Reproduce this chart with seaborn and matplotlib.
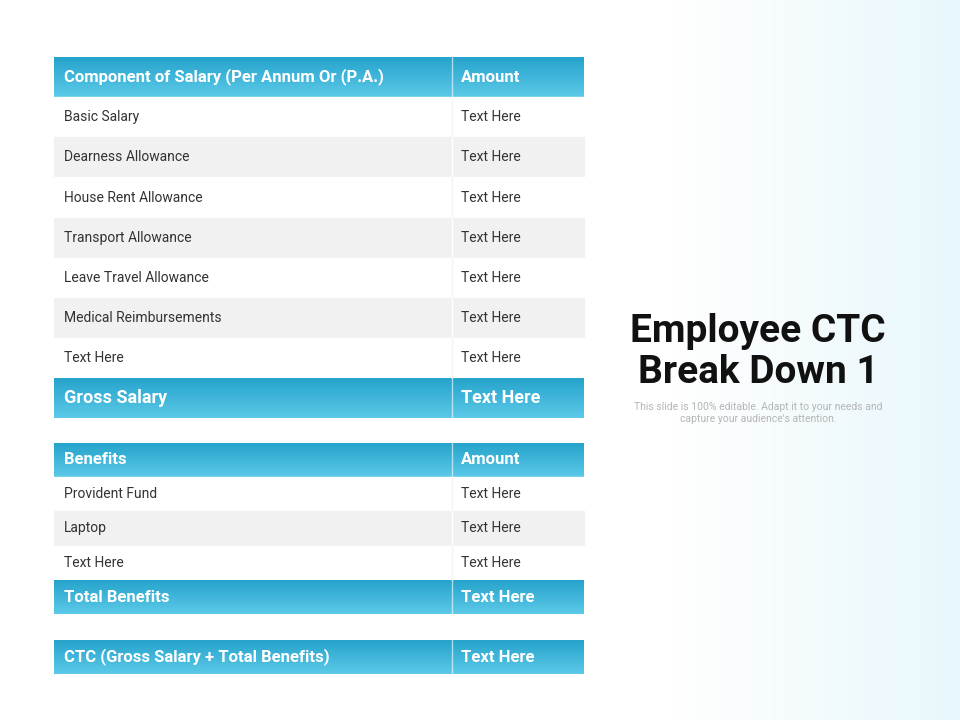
import matplotlib
matplotlib.use("Agg")
import matplotlib.pyplot as plt
import numpy as np
import seaborn as sns

sns.set_theme(style="white")

NARROW = ["Liberation Sans Narrow", "Roboto", "DejaVu Sans"]

salary_header = ["Component of Salary (Per Annum Or (P.A.)", "Amount"]
salary_items = ["Basic Salary", "Dearness Allowance", "House Rent Allowance",
                "Transport Allowance", "Leave Travel Allowance",
                "Medical Reimbursements", "Text Here"]
salary_amounts = ["Text Here"] * 7
gross_row = ["Gross Salary", "Text Here"]

benefit_header = ["Benefits", "Amount"]
benefit_items = ["Provident Fund", "Laptop", "Text Here"]
benefit_amounts = ["Text Here"] * 3
total_row = ["Total Benefits", "Text Here"]
ctc_row = ["CTC (Gross Salary + Total Benefits)", "Text Here"]

X0, XD, X1 = 54, 452, 584

fig = plt.figure(figsize=(9.6, 7.2), dpi=100)
ax = fig.add_axes([0, 0, 1, 1])
ax.set_xlim(0, 960)
ax.set_ylim(720, 0)
ax.axis("off")

# light cyan background fading in on the right
grad = np.linspace(0, 1, 256)
grad = np.clip((grad - 0.7) / 0.3, 0, 1)[None, :]
bg = np.ones((1, 256, 3))
cyan = np.array([0.91, 0.97, 0.99])
bg = bg * (1 - grad[..., None]) + cyan * grad[..., None]
ax.imshow(bg, extent=[0, 960, 720, 0], aspect="auto", zorder=0)

top_c = np.array([0.15, 0.64, 0.80])
bot_c = np.array([0.36, 0.79, 0.91])


def header(y0, y1, left, right, size=12):
    g = np.linspace(0, 1, 64)[:, None, None]
    img = top_c * (1 - g) + bot_c * g
    img = np.repeat(img, 2, axis=1)
    ax.imshow(img, extent=[X0, X1, y1, y0], aspect="auto", zorder=1)
    ax.plot([XD, XD], [y0, y1], color="white", lw=1, alpha=0.6, zorder=2)
    ym = (y0 + y1) / 2
    ax.text(X0 + 10, ym, left, color="white", fontsize=size, fontweight="bold",
            family=NARROW, va="center", zorder=3)
    ax.text(XD + 9, ym, right, color="white", fontsize=size, fontweight="bold",
            family=NARROW, va="center", zorder=3)


def body(y0, h, items, amounts, gray_first=False):
    for i, (a, b) in enumerate(zip(items, amounts)):
        yy = y0 + i * h
        gray = (i % 2 == 1) != gray_first
        c = "#f1f1f1" if gray else "white"
        ax.add_patch(plt.Rectangle((X0, yy), X1 - X0, h, color=c, zorder=1))
        ax.plot([XD, XD], [yy, yy + h], color="#f4f4f4" if not gray else "white",
                lw=1, zorder=2)
        ax.text(X0 + 10, yy + h / 2, a, fontsize=10, color="#333333",
                family=NARROW, va="center", zorder=3)
        ax.text(XD + 9, yy + h / 2, b, fontsize=10, color="#333333",
                family=NARROW, va="center", zorder=3)


header(57, 97, *salary_header)
body(97, 40.2, salary_items, salary_amounts)
header(378, 418, *gross_row, size=13)

header(443, 477, *benefit_header)
body(477, 34.3, benefit_items, benefit_amounts)
header(580, 614, *total_row)

header(640, 674, *ctc_row)

ax.text(758, 352, "Employee CTC\nBreak Down 1", fontsize=28, fontweight="bold",
        family=NARROW, color="#111111", ha="center", va="center",
        linespacing=1.15, zorder=3)
ax.text(758, 413, "This slide is 100% editable. Adapt it to your needs and\n"
        "capture your audience's attention.", fontsize=7.5, color="#b5b5b5",
        ha="center", va="center", family=NARROW, zorder=3)

fig.savefig("out.png", dpi=100)
